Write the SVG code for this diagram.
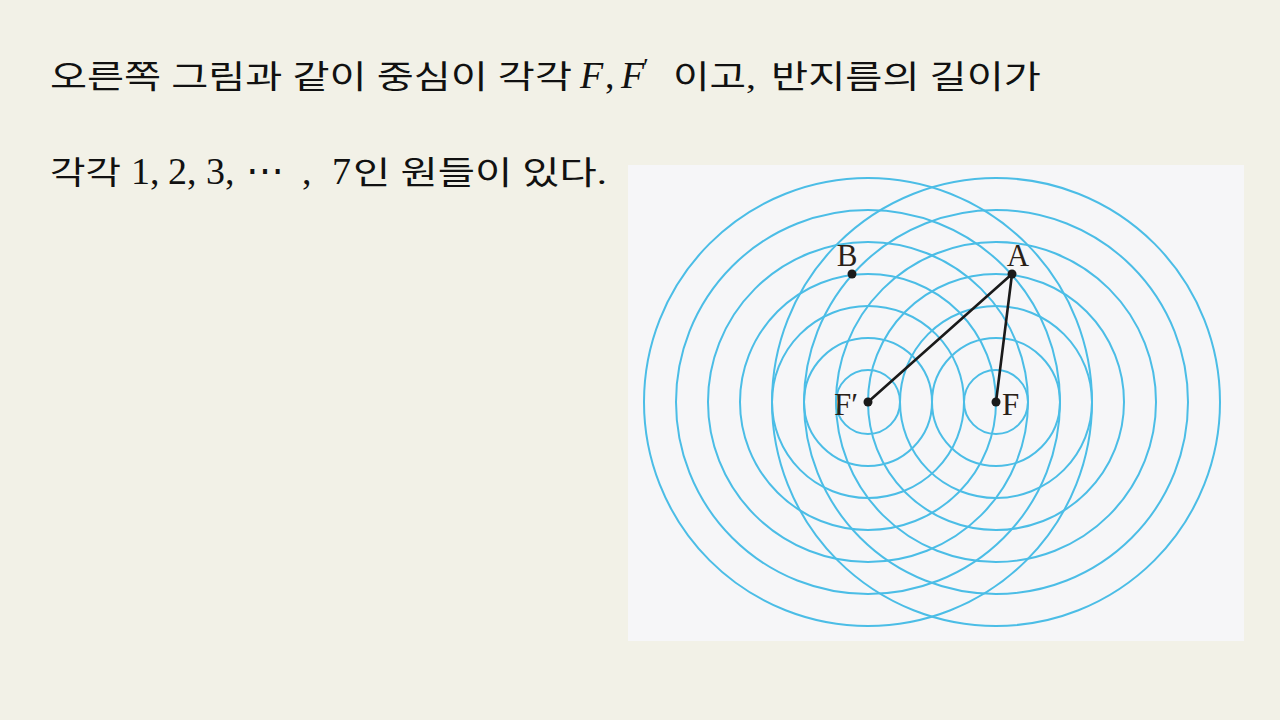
<svg xmlns="http://www.w3.org/2000/svg" width="1280" height="720" viewBox="0 0 1280 720">
<style>
.kr{font-family:"Liberation Serif","Noto Sans CJK KR",serif;font-size:32px;fill:#111}
.m{font-family:"Liberation Serif","DejaVu Serif",serif;font-size:38px;fill:#111}
.mi{font-family:"Liberation Serif","DejaVu Serif",serif;font-size:38px;font-style:italic;fill:#111}
.lbl{font-family:"Liberation Serif","DejaVu Serif",serif;font-size:31px;fill:#2a2118}
.c{fill:none;stroke:#4bbde6;stroke-width:2}
.seg{stroke:#1a1a1a;stroke-width:2.6;stroke-linecap:round}
.pt{fill:#1a1a1a}
</style>
<rect width="1280" height="720" fill="#f2f1e7"/>
<g id="text">
<text class="kr" x="50" y="88" textLength="522" lengthAdjust="spacingAndGlyphs">오른쪽 그림과 같이 중심이 각각</text>
<text class="mi" x="580" y="88">F</text>
<text class="m" x="605" y="88">,</text>
<text class="mi" x="621" y="88">F</text>
<text class="m" x="643" y="76" style="font-size:26px">′</text>
<text class="kr" x="673" y="88" textLength="83" lengthAdjust="spacingAndGlyphs">이고,</text>
<text class="kr" x="771" y="88" textLength="270" lengthAdjust="spacingAndGlyphs">반지름의 길이가</text>
<text class="kr" x="50" y="184" textLength="71" lengthAdjust="spacingAndGlyphs">각각</text>
<text class="m" x="131" y="184">1,</text>
<text class="m" x="168" y="184">2,</text>
<text class="m" x="206" y="184">3,</text>
<text class="m" x="246" y="184">⋯</text>
<text class="m" x="302" y="184">,</text>
<text class="m" x="332" y="184">7</text>
<text class="kr" x="353" y="184" textLength="254" lengthAdjust="spacingAndGlyphs">인 원들이 있다.</text>
</g>
<rect x="628" y="165" width="616" height="476" fill="#f6f6f8"/>
<g id="circlesFp">
<circle class="c" cx="868" cy="402" r="32"/>
<circle class="c" cx="868" cy="402" r="64"/>
<circle class="c" cx="868" cy="402" r="96"/>
<circle class="c" cx="868" cy="402" r="128"/>
<circle class="c" cx="868" cy="402" r="160"/>
<circle class="c" cx="868" cy="402" r="192"/>
<circle class="c" cx="868" cy="402" r="224"/>
</g>
<g id="circlesF">
<circle class="c" cx="996" cy="402" r="32"/>
<circle class="c" cx="996" cy="402" r="64"/>
<circle class="c" cx="996" cy="402" r="96"/>
<circle class="c" cx="996" cy="402" r="128"/>
<circle class="c" cx="996" cy="402" r="160"/>
<circle class="c" cx="996" cy="402" r="192"/>
<circle class="c" cx="996" cy="402" r="224"/>
</g>
<g id="connectors">
<line class="seg" x1="1012" y1="274" x2="868" y2="402"/>
<line class="seg" x1="1012" y1="274" x2="996" y2="402"/>
</g>
<g id="node-A"><circle class="pt" cx="1012" cy="274" r="4.5"/><text class="lbl" x="1018" y="266" text-anchor="middle">A</text></g>
<g id="node-B"><circle class="pt" cx="852" cy="274" r="4.5"/><text class="lbl" x="847" y="266" text-anchor="middle">B</text></g>
<g id="node-Fp"><circle class="pt" cx="868" cy="402" r="4.5"/><text class="lbl" x="834" y="415">F′</text></g>
<g id="node-F"><circle class="pt" cx="996" cy="402" r="4.5"/><text class="lbl" x="1002" y="415">F</text></g>
</svg>
